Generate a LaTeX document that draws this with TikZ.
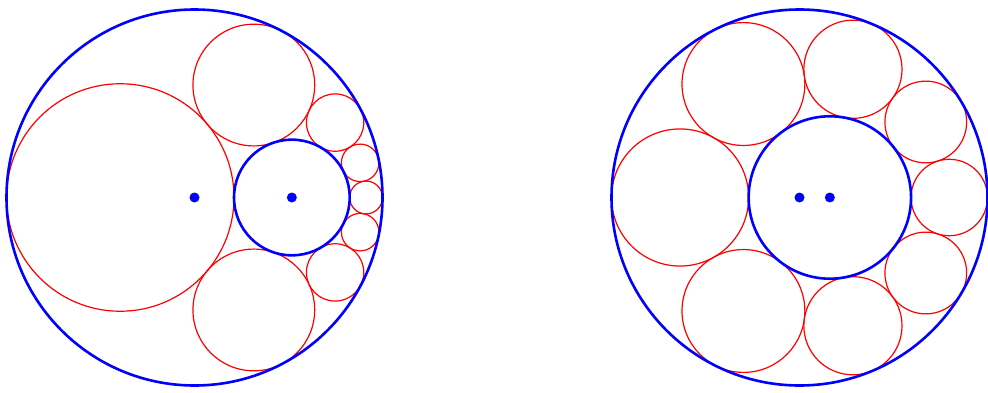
\documentclass[tikz,border=0pt]{standalone}
\tikzset{
  boundc/.style={draw=blue, line width=2.6pt},
  chainc/.style={draw=red, line width=1.2pt},
  centerdot/.style={fill=blue}
}
% #1,#2 = centre of outer circle (pt), #3 = outer radius (pt), #4 = inversion parameter
\newcommand\mysteinerchain[4]{%
  \pgfmathsetmacro\stP{#4}%
  \pgfmathsetmacro\stR{#3}%
  \pgfmathsetmacro\stk{(1-sin(22.5))/(1+sin(22.5))}%
  \pgfmathsetmacro\stm{(1+\stk)/2}%
  \pgfmathsetmacro\sts{(1-\stk)/2}%
  \pgfmathsetmacro\stK{\stR*(\stP*\stP-1)}%
  \foreach \j in {0,...,7}{%
    \pgfmathsetmacro\stang{45*\j}%
    \pgfmathsetmacro\stD{\stm*\stm-2*\stm*\stP*cos(\stang)+\stP*\stP-\sts*\sts}%
    \pgfmathsetmacro\stf{\stK/\stD}%
    \pgfmathsetmacro\stX{#1+\stf*(\stm*cos(\stang)-\stP)+\stR*\stP}%
    \pgfmathsetmacro\stY{#2+\stf*\stm*sin(\stang)}%
    \pgfmathsetmacro\str{\stf*\sts}%
    \draw[chainc] (\stX pt,\stY pt) circle[radius=\str pt];
  }%
  \pgfmathsetmacro\stDi{\stP*\stP-\stk*\stk}%
  \pgfmathsetmacro\stfi{\stK/\stDi}%
  \pgfmathsetmacro\stXi{#1-\stfi*\stP+\stR*\stP}%
  \pgfmathsetmacro\stri{\stfi*\stk}%
  \draw[boundc] (#1pt,#2pt) circle[radius=#3pt];
  \draw[boundc] (\stXi pt,#2pt) circle[radius=\stri pt];
  \fill[centerdot] (#1pt,#2pt) circle[radius=5pt];
  \fill[centerdot] (\stXi pt,#2pt) circle[radius=5pt];
}
\begin{document}
\begin{tikzpicture}
\useasboundingbox (0,0) rectangle (988pt,392pt);
\mysteinerchain{194.5}{194.5}{188}{1.666}
\mysteinerchain{799.5}{194.5}{188}{5}
\end{tikzpicture}
\end{document}
